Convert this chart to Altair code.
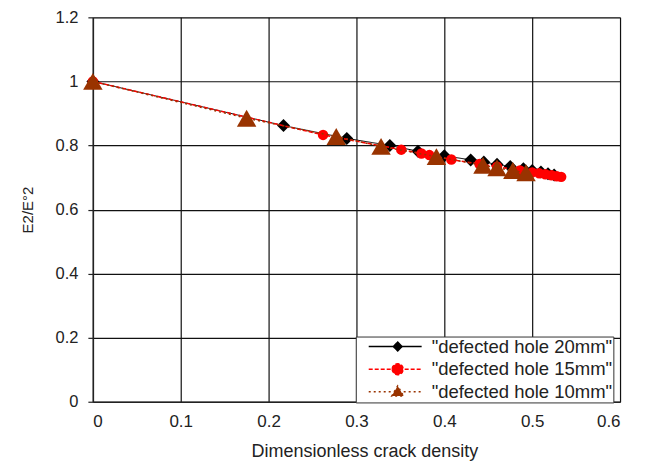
import altair as alt
import pandas as pd

series_names = ['"defected hole 20mm"', '"defected hole 15mm"', '"defected hole 10mm"']

x20 = [0, 0.217, 0.289, 0.338, 0.370, 0.400, 0.430, 0.445, 0.460, 0.475, 0.490, 0.500, 0.510, 0.518, 0.525]
y20 = [1.0, 0.862, 0.822, 0.800, 0.782, 0.768, 0.755, 0.748, 0.741, 0.734, 0.727, 0.722, 0.717, 0.712, 0.708]

x15 = [0, 0.262, 0.351, 0.374, 0.383, 0.408, 0.440, 0.460, 0.486, 0.500, 0.508, 0.515, 0.522, 0.528, 0.533]
y15 = [1.0, 0.833, 0.787, 0.775, 0.770, 0.756, 0.742, 0.734, 0.722, 0.716, 0.713, 0.710, 0.707, 0.704, 0.702]

x10 = [0, 0.175, 0.277, 0.328, 0.391, 0.444, 0.460, 0.478, 0.493]
y10 = [1.0, 0.885, 0.828, 0.797, 0.765, 0.738, 0.730, 0.722, 0.715]

x_ticks = [0, 0.1, 0.2, 0.3, 0.4, 0.5, 0.6]
y_ticks = [0, 0.2, 0.4, 0.6, 0.8, 1.0, 1.2]

colors = ["#000000", "#FF0000", "#993300"]
shapes = ["diamond", "circle", "triangle-up"]
sizes = [170, 110, 380]
line_widths = [1, 1.5, 1.5]
dashes = [[1, 0], [4, 2], [2, 3]]

# legend symbols: line segment + marker, in unit symbol space
legend_paths = [
    "M-0.686,0H0.829M0.143,-0.125L0.268,0L0.143,0.125L0.018,0Z",
    "M-0.686,0H0.829M-0.014,0A0.157,0.157 0 1,0 0.3,0A0.157,0.157 0 1,0 -0.014,0Z",
    "M-0.686,0H0.829M-0.027,0.12L0.143,-0.17L0.313,0.12Z",
]

frames = []
for name, xs, ys in zip(series_names, [x20, x15, x10], [y20, y15, y10]):
    frames.append(pd.DataFrame({"series": name, "x": xs, "y": ys}))
df = pd.concat(frames, ignore_index=True)

FONT = "Liberation Sans"
TXT = "#222222"

x_enc = alt.X(
    "x:Q",
    scale=alt.Scale(domain=[0, 0.6], nice=False, zero=False),
    axis=alt.Axis(
        values=x_ticks, format="~g", title="Dimensionless crack density",
        tickSize=0, labelPadding=12,
        labelFontSize=17, titleFontSize=18, labelFont=FONT, titleFont=FONT,
        labelColor=TXT, titleColor=TXT, titleFontWeight="normal",
        titleX=272, titleY=41, titleBaseline="top",
        grid=True, gridColor="#111", gridWidth=1.2, gridOpacity=1,
        domainColor="#222", domainWidth=1.5,
    ),
)
y_enc = alt.Y(
    "y:Q",
    scale=alt.Scale(domain=[0, 1.2], nice=False, zero=False),
    axis=alt.Axis(
        values=y_ticks, format="~g", title="E2/E°2",
        tickSize=5, tickColor="#222", tickWidth=1.2, labelPadding=10,
        labelFontSize=16.5, titleFontSize=15, labelFont=FONT, titleFont=FONT,
        labelColor=TXT, titleColor=TXT, titleFontWeight="normal",
        titlePadding=20,
        grid=True, gridColor="#111", gridWidth=1.2, gridOpacity=1,
        domainColor="#222", domainWidth=1.5,
    ),
)

layers = []
for name, c, sh, sz, lw, d in zip(series_names, colors, shapes, sizes, line_widths, dashes):
    sub = alt.Chart(df).transform_filter(alt.datum.series == name)
    layers.append(sub.mark_line(color=c, strokeWidth=lw, strokeDash=d).encode(x=x_enc, y=y_enc))
    layers.append(sub.mark_point(shape=sh, filled=True, size=sz, color=c, opacity=1).encode(x=x_enc, y=y_enc))

leg = alt.Legend(
    title=None, orient="none", legendX=263.3, legendY=319.7,
    symbolSize=4900, symbolStrokeWidth=1.5, clipHeight=18, rowPadding=3.7,
    padding=1, labelOffset=3, labelFont=FONT, labelFontSize=18.5, labelColor=TXT,
    strokeColor="#333", fillColor="white", labelLimit=400,
)
legend_layer = alt.Chart(df).transform_filter("false").mark_point(filled=True, opacity=1).encode(
    x=x_enc, y=y_enc,
    fill=alt.Fill("series:N", scale=alt.Scale(domain=series_names, range=colors), legend=leg),
    stroke=alt.Stroke("series:N", scale=alt.Scale(domain=series_names, range=colors), legend=leg),
    shape=alt.Shape("series:N", scale=alt.Scale(domain=series_names, range=legend_paths), legend=leg),
    strokeDash=alt.StrokeDash("series:N", scale=alt.Scale(domain=series_names, range=dashes), legend=leg),
)

chart = alt.layer(*layers, legend_layer).properties(
    width=528, height=385,
    autosize=alt.AutoSizeParams(type="none"),
    padding={"left": 85, "top": 9, "right": 22, "bottom": 62},
).configure_view(stroke="#222", strokeWidth=1.5).configure(background="white")

chart.save("out.html", embed_options={"renderer": "svg", "actions": False})
